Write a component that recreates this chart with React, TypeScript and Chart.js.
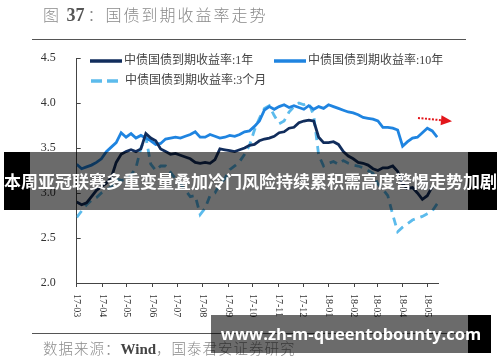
import React, { useEffect, useRef } from 'react';
import { Chart, registerables } from 'chart.js';

Chart.register(...registerables);

// ---------- data ----------
const seriesNames = ['中债国债到期收益率:1年', '中债国债到期收益率:10年', '中债国债到期收益率:3个月'];
const monthLabels = ['17-03', '17-04', '17-05', '17-06', '17-07', '17-08', '17-09', '17-10', '17-11', '17-12', '18-01', '18-02', '18-03', '18-04', '18-05'];
const startDate = '2017-03-01';
const stepDays = 6; // sampling interval of the series below
const lastDay = 439; // end of the x range, days after startDate
const yMin = 2.0;
const yMax = 4.5;
const yStep = 0.5;

const yield1Y = [2.9, 2.87, 2.89, 2.96, 3.03, 3.07, 3.11, 3.17, 3.34, 3.43,
  3.46, 3.48, 3.46, 3.49, 3.66, 3.61, 3.58, 3.49, 3.46, 3.43,
  3.44, 3.42, 3.4, 3.38, 3.34, 3.33, 3.34, 3.33, 3.37, 3.49,
  3.48, 3.47, 3.46, 3.48, 3.5, 3.53, 3.54, 3.58, 3.6, 3.61,
  3.63, 3.67, 3.68, 3.72, 3.73, 3.78, 3.8, 3.81, 3.8, 3.62,
  3.56, 3.56, 3.57, 3.54, 3.46, 3.41, 3.38, 3.34, 3.33, 3.31,
  3.27, 3.25, 3.28, 3.28, 3.3, 3.24, 3.1, 3.05, 3.06, 3.0,
  2.93, 2.97, 3.07];

const yield10Y = [3.32, 3.27, 3.29, 3.31, 3.34, 3.38, 3.46, 3.51, 3.56, 3.67,
  3.62, 3.66, 3.61, 3.64, 3.61, 3.58, 3.54, 3.55, 3.6, 3.61,
  3.62, 3.61, 3.63, 3.65, 3.68, 3.62, 3.62, 3.65, 3.63, 3.61,
  3.62, 3.64, 3.63, 3.65, 3.68, 3.69, 3.74, 3.8, 3.92, 3.96,
  3.93, 3.96, 3.98, 3.95, 3.97, 3.95, 3.93, 3.97, 3.93, 3.96,
  3.94, 3.98, 3.96, 3.94, 3.92, 3.9, 3.89, 3.87, 3.84, 3.83,
  3.82, 3.8, 3.73, 3.73, 3.72, 3.7, 3.52, 3.57, 3.61, 3.62,
  3.67, 3.72, 3.69, 3.62];

const yield3M = [2.73, 2.8, 2.87, 2.92, 2.95, 3.0, 3.03, 3.07, 3.16, 3.14,
  3.15, 3.2, 3.28, 3.5, 3.62, 3.32, 3.25, 3.3, 3.3, 3.23,
  3.16, 3.1, 3.03, 2.96, 2.97, 2.76, 2.83, 2.97, 3.0, 3.1,
  3.16, 3.26, 3.3, 3.35, 3.43, 3.53, 3.7, 3.83, 3.94, 3.97,
  3.86, 3.77, 3.8, 3.9, 3.96, 4.0, 3.98, 4.0, 3.86, 3.42,
  3.3, 3.33, 3.35, 3.32, 3.36, 3.33, 3.31, 3.3, 3.28, 3.25,
  3.22, 3.1, 3.04, 2.97, 2.76, 2.57, 2.62, 2.66, 2.7, 2.72,
  2.74, 2.77, 2.8, 2.88];

// red trend arrow (day, value)
const arrowStart = [414.7, 3.834];
const arrowEnd = [456, 3.797];

const titleText = '国债到期收益率走势';
const sourceText = '数据来源：';
const bannerText = '本周亚冠联赛多重变量叠加冷门风险持续累积需高度警惕走势加剧';
const watermarkText = 'www.zh-m-queentobounty.com';

// ---------- helpers ----------
const DAY = 86400000;
const startMs = Date.parse(startDate + 'T00:00:00Z');
const monthDays = monthLabels.map((l) => {
  const [yy, mm] = l.split('-').map(Number);
  return Math.round((Date.UTC(2000 + yy, mm - 1, 1) - startMs) / DAY);
});
const toPoints = (arr: number[]) => arr.map((v, i) => ({ x: i * stepDays, y: v }));

const colors = {
  y1: '#112d5c',
  y10: '#1f84e0',
  m3: '#5cbbec',
};

const overlayPlugin = {
  id: 'overlayPlugin',
  afterDraw(chart: any) {
    const { ctx, chartArea } = chart;
    const x = chart.scales.x;
    const y = chart.scales.y;
    ctx.save();
    // inner y tick marks
    ctx.strokeStyle = '#444';
    ctx.lineWidth = 1;
    ctx.setLineDash([]);
    y.ticks.forEach((t: any) => {
      const py = Math.round(y.getPixelForValue(t.value)) + 0.5;
      ctx.beginPath();
      ctx.moveTo(chartArea.left, py);
      ctx.lineTo(chartArea.left + 4, py);
      ctx.stroke();
    });
    // x labels rotated clockwise
    ctx.fillStyle = '#333';
    ctx.font = '10px "Liberation Serif", "Times New Roman", serif';
    ctx.textAlign = 'left';
    ctx.textBaseline = 'middle';
    monthDays.forEach((d, i) => {
      const px = x.getPixelForValue(d);
      ctx.save();
      ctx.translate(px, chartArea.bottom + 11);
      ctx.rotate(Math.PI / 2);
      ctx.fillText(monthLabels[i], 0, 0);
      ctx.restore();
    });
    // legend
    const items = [
      { ds: 0, lx: 90, ly: 61 },
      { ds: 1, lx: 274, ly: 61 },
      { ds: 2, lx: 91, ly: 81 },
    ];
    ctx.font = '12px "Liberation Serif", "Noto Sans CJK SC", serif';
    ctx.fillStyle = '#444';
    ctx.textBaseline = 'middle';
    items.forEach((it) => {
      const ds = chart.data.datasets[it.ds];
      ctx.save();
      ctx.strokeStyle = ds.borderColor;
      ctx.lineWidth = 3.5;
      const dashed = ds.borderDash && ds.borderDash.length;
      ctx.setLineDash(dashed ? [11, 5] : []);
      ctx.beginPath();
      ctx.moveTo(it.lx, it.ly);
      ctx.lineTo(it.lx + (dashed ? 27 : 32), it.ly);
      ctx.stroke();
      ctx.restore();
      ctx.fillText(ds.label, it.lx + 34, it.ly);
    });
    // red dotted arrow
    const ax1 = x.getPixelForValue(arrowStart[0]);
    const ay1 = y.getPixelForValue(arrowStart[1]);
    const ax2 = x.getPixelForValue(arrowEnd[0]);
    const ay2 = y.getPixelForValue(arrowEnd[1]);
    const ang = Math.atan2(ay2 - ay1, ax2 - ax1);
    const headLen = 11;
    const bx = ax2 - headLen * Math.cos(ang);
    const by = ay2 - headLen * Math.sin(ang);
    ctx.strokeStyle = '#e3161b';
    ctx.fillStyle = '#e3161b';
    ctx.lineWidth = 2;
    ctx.setLineDash([2, 1.5]);
    ctx.beginPath();
    ctx.moveTo(ax1, ay1);
    ctx.lineTo(bx, by);
    ctx.stroke();
    ctx.setLineDash([]);
    ctx.beginPath();
    ctx.moveTo(ax2, ay2);
    ctx.lineTo(bx + 5 * Math.sin(ang), by - 5 * Math.cos(ang));
    ctx.lineTo(bx - 5 * Math.sin(ang), by + 5 * Math.cos(ang));
    ctx.closePath();
    ctx.fill();
    ctx.restore();
  },
};

export default function App() {
  const canvasRef = useRef<HTMLCanvasElement | null>(null);

  useEffect(() => {
    if (!canvasRef.current) return;
    const chart = new Chart(canvasRef.current, {
      type: 'line',
      data: {
        datasets: [
          { label: seriesNames[0], data: toPoints(yield1Y), borderColor: colors.y1, backgroundColor: colors.y1, borderWidth: 2.8, pointRadius: 0, tension: 0 },
          { label: seriesNames[1], data: toPoints(yield10Y), borderColor: colors.y10, backgroundColor: colors.y10, borderWidth: 2.8, pointRadius: 0, tension: 0 },
          { label: seriesNames[2], data: toPoints(yield3M), borderColor: colors.m3, backgroundColor: colors.m3, borderWidth: 2.8, borderDash: [8, 6], pointRadius: 0, tension: 0 },
        ],
      },
      options: {
        responsive: false,
        animation: false,
        layout: { padding: { left: 0, right: 62, top: 58, bottom: 79 } },
        plugins: { legend: { display: false }, tooltip: { enabled: false }, title: { display: false } },
        scales: {
          x: {
            type: 'linear',
            min: 0,
            max: lastDay,
            afterBuildTicks: (s: any) => { s.ticks = monthDays.map((v) => ({ value: v })); },
            afterFit: (s: any) => { s.height = 0; },
            ticks: { display: false },
            grid: { display: true, drawOnChartArea: false, drawTicks: true, tickLength: 4, color: '#444', lineWidth: 1 },
            border: { display: true, color: '#444', width: 1 },
          },
          y: {
            min: yMin,
            max: yMax,
            afterFit: (s: any) => { s.width = 76.7; },
            ticks: {
              stepSize: yStep,
              padding: 13,
              color: '#333',
              font: { family: '"Liberation Serif", "Times New Roman", serif', size: 12 },
              callback: (v: any) => Number(v).toFixed(1),
            },
            grid: { display: false },
            border: { display: true, color: '#444', width: 1 },
          },
        },
      } as any,
      plugins: [overlayPlugin],
    });
    return () => chart.destroy();
  }, []);

  const abs = (s: React.CSSProperties): React.CSSProperties => ({ position: 'absolute', ...s });

  return (
    <div style={{ position: 'absolute', left: 0, top: 0, width: 500, height: 362, background: '#fff', overflow: 'hidden' }}>
      <canvas ref={canvasRef} width={500} height={362} style={abs({ left: 0, top: 0, width: 500, height: 362 })} />
      <div style={abs({ left: 43, top: 3, lineHeight: '22px', fontSize: 16, letterSpacing: 2, color: '#8a8a8a', fontFamily: '"Noto Sans CJK SC", sans-serif', whiteSpace: 'nowrap', fontWeight: 300 })}>
        图 <span style={{ fontFamily: '"Liberation Serif", serif', fontWeight: 700, fontSize: 18, color: '#555', letterSpacing: 0, marginRight: 3 }}>37</span>：{titleText}
      </div>
      <div style={abs({ left: 32, top: 39, width: 434, height: 1, background: '#555' })} />
      <div style={abs({ left: 32, top: 333, width: 434, height: 1, background: '#555' })} />
      <div style={abs({ left: 43, top: 338, lineHeight: '20px', fontSize: 14.5, letterSpacing: 1, color: '#8a8a8a', fontFamily: '"Noto Sans CJK SC", sans-serif', whiteSpace: 'nowrap', fontWeight: 300 })}>
        {sourceText}<span style={{ fontFamily: '"Liberation Serif", serif', fontWeight: 700, fontSize: 15, color: '#444', letterSpacing: 0 }}>Wind</span>，国泰君安证券研究
      </div>
      {/* banner */}
      <div style={abs({ left: 4, top: 152, width: 26, height: 58, background: '#000' })} />
      <div style={abs({ left: 30, top: 152, width: 438, height: 58, background: 'rgba(0,0,0,0.58)' })} />
      <div style={abs({ left: 468, top: 152, width: 29, height: 58, background: '#000' })} />
      <div style={abs({ left: 4, top: 152, width: 493, height: 58, lineHeight: '58px', textAlign: 'center', color: '#fff', fontWeight: 700, fontSize: 17, fontFamily: '"Noto Sans CJK SC", sans-serif', whiteSpace: 'nowrap' })}>
        {bannerText}
      </div>
      {/* watermark */}
      <div style={abs({ left: 211, top: 315, width: 257, height: 38, background: 'rgba(0,0,0,0.58)' })} />
      <div style={abs({ left: 468, top: 315, width: 23, height: 38, background: '#000' })} />
      <div style={abs({ left: 211, top: 315, width: 280, height: 38, lineHeight: '38px', textAlign: 'center', color: '#fff', fontWeight: 700, fontSize: 16.5, fontFamily: '"Open Sans", "DejaVu Sans", sans-serif', whiteSpace: 'nowrap' })}>
        {watermarkText}
      </div>
    </div>
  );
}
